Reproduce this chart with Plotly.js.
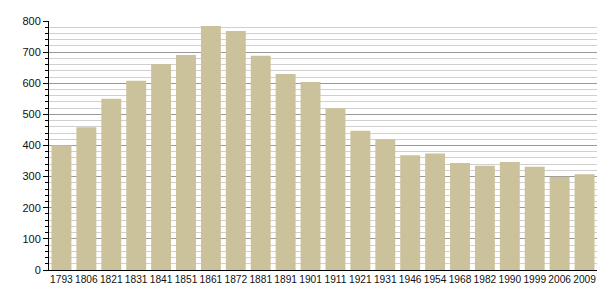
<!DOCTYPE html>
<html><head><meta charset="utf-8">
<script src="https://cdn.plot.ly/plotly-3.0.1.min.js"></script>
<style>html,body{margin:0;padding:0;background:#fff}#c{width:605px;height:300px}</style>
</head><body><div id="c"></div>
<script>
const years = ["1793","1806","1821","1831","1841","1851","1861","1872","1881","1891","1901","1911","1921","1931","1946","1954","1968","1982","1990","1999","2006","2009"];
const population = [401,459,550,608,662,691,784,768,688,630,604,520,447,420,369,374,344,335,347,332,300,308];
const yTicks = [0,100,200,300,400,500,600,700,800];

Plotly.newPlot('c', [{
  type: 'bar', x: years, y: population,
  marker: {color: '#cbc29b', line: {width: 0}},
  hoverinfo: 'x+y'
}], {
  width: 605, height: 300,
  margin: {l: 49, r: 8, t: 21, b: 30},
  paper_bgcolor: '#fff', plot_bgcolor: '#fff',
  bargap: 0.2,
  showlegend: false,
  font: {family: 'Liberation Sans, Arial, sans-serif', size: 11, color: '#111'},
  xaxis: {type: 'category', showline: true, linecolor: '#000', linewidth: 1,
          ticks: '', showgrid: false, tickangle: 0, tickfont: {size: 10.2}, fixedrange: true},
  yaxis: {range: [0, 800], tickvals: yTicks, showline: true, linecolor: '#000', linewidth: 1,
          ticks: 'outside', ticklen: 5, tickcolor: '#000',
          showgrid: true, gridcolor: '#999', gridwidth: 1, zeroline: false,
          minor: {dtick: 20, showgrid: true, gridcolor: '#d0d0d0', ticks: 'outside', ticklen: 3, tickcolor: '#000'},
          tickfont: {size: 11}, fixedrange: true}
}, {displayModeBar: false, staticPlot: true});
</script></body></html>
